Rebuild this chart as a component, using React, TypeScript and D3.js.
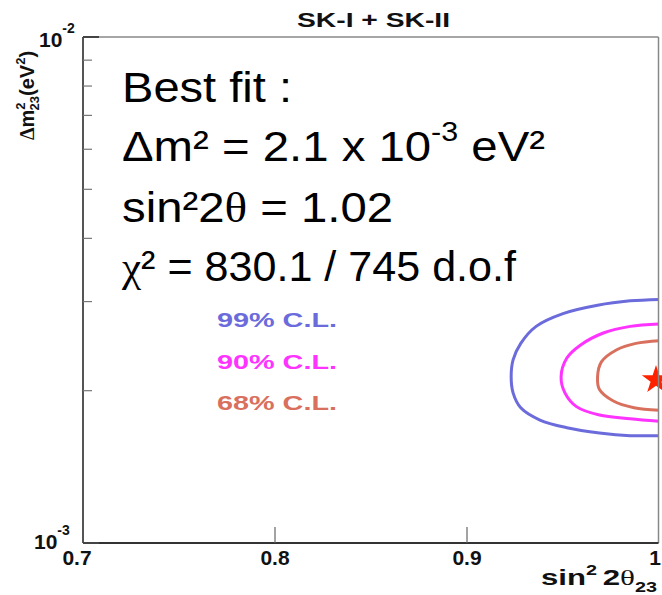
import React, { useEffect, useRef } from 'react';
import * as d3 from 'd3';

// contours: [sin^2 2theta, dm^2 in 1e-3 eV^2]
const contour99 = [
  [1.0, 3.03], [0.985, 3.01], [0.968, 2.95], [0.95, 2.84], [0.936, 2.68], [0.928, 2.48],
  [0.924, 2.3], [0.923, 2.13], [0.924, 1.98], [0.928, 1.85], [0.938, 1.75], [0.952, 1.69],
  [0.969, 1.65], [0.985, 1.63], [1.0, 1.63],
];
const contour90 = [
  [1.0, 2.71], [0.985, 2.68], [0.971, 2.6], [0.959, 2.46], [0.952, 2.32], [0.949, 2.13],
  [0.951, 1.98], [0.957, 1.86], [0.969, 1.79], [0.985, 1.76], [1.0, 1.74],
];
const contour68 = [
  [1.0, 2.51], [0.988, 2.48], [0.978, 2.41], [0.97, 2.28], [0.968, 2.13], [0.969, 2.01],
  [0.976, 1.91], [0.987, 1.85], [1.0, 1.83],
];
const bestFit = [1.0, 2.1];

const legendLabels = ['99% C.L.', '90% C.L.', '68% C.L.'];
const legendColors = ['#6b6bdc', '#ff33ff', '#d9705e'];

const xTicks = [0.7, 0.8, 0.9, 1];
const xTickLabels = ['0.7', '0.8', '0.9', '1'];
const yMinor = [2e-3, 3e-3, 4e-3, 5e-3, 6e-3, 7e-3, 8e-3, 9e-3];
const yMajor = [1e-3, 1e-2];
const yMajorExp = ['-3', '-2'];

const FONT = "'Liberation Sans', Arial, Helvetica, sans-serif";

const App = () => {
  const svgRef = useRef<SVGSVGElement>(null);

  useEffect(() => {
    const svg = d3.select(svgRef.current);
    svg.selectAll('*').remove();

    const left = 83, right = 658.5, top = 37, bottom = 543;
    const x = d3.scaleLinear().domain([0.7, 1]).range([left, 659]);
    const y = d3.scaleLog().domain([1e-3, 1e-2]).range([bottom, top]);

    svg.append('rect').attr('width', 662).attr('height', 595).attr('fill', '#fff');

    // contours
    const line = d3.line<number[]>()
      .x(d => x(d[0]))
      .y(d => y(d[1] * 1e-3))
      .curve(d3.curveCatmullRom.alpha(0.5));
    [contour99, contour90, contour68].forEach((c, i) => {
      svg.append('path')
        .attr('d', line(c))
        .attr('fill', 'none')
        .attr('stroke', legendColors[i])
        .attr('stroke-width', 3);
    });

    // best fit star
    svg.append('path')
      .attr('d', d3.symbol().type(d3.symbolStar).size(250)())
      .attr('transform', `translate(${x(bestFit[0]) - 3},${y(bestFit[1] * 1e-3)})`)
      .attr('fill', '#ff2200');

    // frame
    svg.append('line').attr('x1', left).attr('x2', right).attr('y1', top).attr('y2', top)
      .attr('stroke', '#888').attr('stroke-width', 1.5);
    svg.append('line').attr('x1', right).attr('x2', right).attr('y1', top).attr('y2', bottom)
      .attr('stroke', '#888').attr('stroke-width', 1.5);
    svg.append('line').attr('x1', left).attr('x2', left).attr('y1', top).attr('y2', bottom)
      .attr('stroke', '#555').attr('stroke-width', 2);
    svg.append('line').attr('x1', left).attr('x2', right).attr('y1', bottom).attr('y2', bottom)
      .attr('stroke', '#333').attr('stroke-width', 2);

    // x ticks
    xTicks.slice(1, -1).forEach(t => {
      svg.append('line').attr('x1', x(t)).attr('x2', x(t)).attr('y1', bottom).attr('y2', bottom - 16)
        .attr('stroke', '#666').attr('stroke-width', 1.2);
    });
    xTicks.forEach((t, i) => {
      svg.append('text')
        .attr('x', Math.min(x(t), 655) - (i === 0 ? 6 : 0))
        .attr('y', 565)
        .attr('text-anchor', 'middle')
        .attr('font-family', FONT).attr('font-weight', 'bold').attr('font-size', 21)
        .attr('fill', '#111')
        .text(xTickLabels[i]);
    });

    // y ticks
    yMinor.forEach(t => {
      svg.append('line').attr('x1', left).attr('x2', left + 9).attr('y1', y(t)).attr('y2', y(t))
        .attr('stroke', '#777').attr('stroke-width', 1.2);
    });
    yMajor.forEach(t => {
      svg.append('line').attr('x1', left).attr('x2', left + 16).attr('y1', y(t)).attr('y2', y(t))
        .attr('stroke', '#444').attr('stroke-width', 2);
    });
    yMajor.forEach((t, i) => {
      const g = svg.append('text')
        .attr('x', i === 0 ? 34 : 39).attr('y', y(t) + (i === 0 ? 6 : 10))
        .attr('font-family', FONT).attr('font-weight', 'bold').attr('font-size', 21)
        .attr('fill', '#111');
      g.append('tspan').text('10');
      g.append('tspan').attr('dy', -14).attr('font-size', 14).text(yMajorExp[i]);
    });

    // axis titles
    const xt = svg.append('text')
      .attr('x', 541).attr('y', 585)
      .attr('font-family', FONT).attr('font-weight', 'bold').attr('font-size', 22)
      .attr('textLength', 116).attr('lengthAdjust', 'spacingAndGlyphs')
      .attr('fill', '#111');
    xt.append('tspan').text('sin');
    xt.append('tspan').attr('dy', -10).attr('font-size', 14).text('2');
    xt.append('tspan').attr('dy', 10).attr('dx', 4).text('2');
    xt.append('tspan').attr('font-family', 'serif').attr('font-weight', 'normal').text('θ');
    xt.append('tspan').attr('dy', 7).attr('font-size', 14).text('23');

    const yt = svg.append('text')
      .attr('transform', 'translate(34,140) rotate(-90)')
      .attr('font-family', FONT).attr('font-weight', 'bold').attr('font-size', 20)
      .attr('fill', '#111');
    yt.append('tspan').attr('font-family', 'serif').text('Δ');
    yt.append('tspan').text('m');
    yt.append('tspan').attr('dy', -9).attr('font-size', 13).text('2');
    yt.append('tspan').attr('dx', -8).attr('dy', 14).attr('font-size', 13).text('23');
    yt.append('tspan').attr('dy', -5).text('(eV');
    yt.append('tspan').attr('dy', -9).attr('font-size', 13).text('2');
    yt.append('tspan').attr('dy', 9).text(')');

    // title
    svg.append('text')
      .attr('x', 297).attr('y', 27)
      .attr('font-family', FONT).attr('font-weight', 'bold').attr('font-size', 21)
      .attr('textLength', 153).attr('lengthAdjust', 'spacingAndGlyphs')
      .attr('fill', '#111')
      .text('SK-I + SK-II');

    // legend
    legendLabels.forEach((l, i) => {
      svg.append('text')
        .attr('x', 217).attr('y', 327 + i * 41.5)
        .attr('font-family', FONT).attr('font-weight', 'bold').attr('font-size', 21)
        .attr('textLength', 120).attr('lengthAdjust', 'spacingAndGlyphs')
        .attr('fill', legendColors[i])
        .text(l);
    });

    // best fit box text
    const big = (yy: number, w: number) => svg.append('text')
      .attr('x', 122).attr('y', yy)
      .attr('font-family', FONT).attr('font-size', 42)
      .attr('textLength', w).attr('lengthAdjust', 'spacingAndGlyphs')
      .attr('fill', '#000');
    big(102, 170).text('Best fit :');
    const l2 = big(161, 423);
    l2.append('tspan').text('Δm² = 2.1 x 10');
    l2.append('tspan').attr('dy', -20).attr('font-size', 27).text('-3');
    l2.append('tspan').attr('dy', 20).text(' eV²');
    const l3 = big(222, 271);
    l3.append('tspan').text('sin²2');
    l3.append('tspan').attr('font-family', "'Liberation Serif', serif").text('θ');
    l3.append('tspan').text(' = 1.02');
    const l4 = big(281, 394);
    l4.append('tspan').attr('font-family', "'Liberation Serif', serif").text('χ');
    l4.append('tspan').text('² = 830.1 / 745 d.o.f');
  }, []);

  return (
    <svg ref={svgRef} width={662} height={595}
      style={{ position: 'absolute', left: 0, top: 0, display: 'block' }} />
  );
};

export default App;
